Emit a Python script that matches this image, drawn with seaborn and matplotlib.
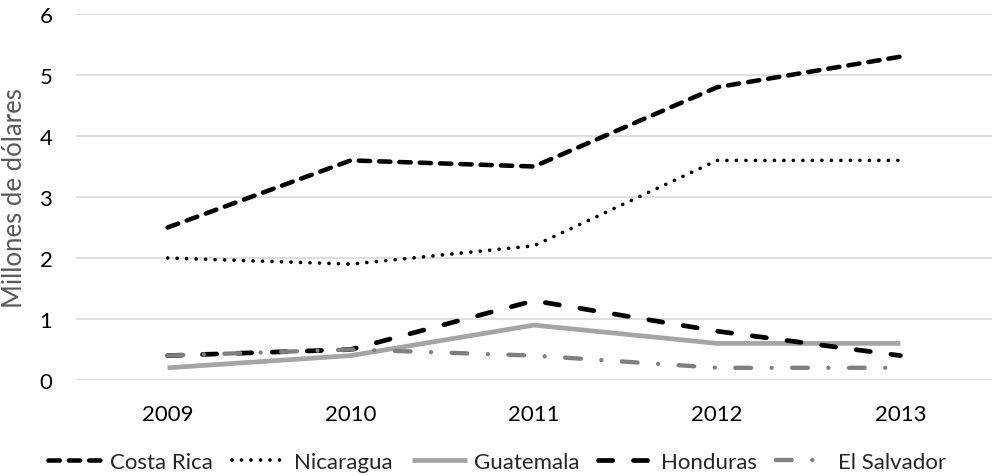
import matplotlib
matplotlib.use("Agg")
import matplotlib.pyplot as plt
import seaborn as sns
import pandas as pd

years = [2009, 2010, 2011, 2012, 2013]
costa_rica = [2.5, 3.6, 3.5, 4.8, 5.3]
nicaragua = [2.0, 1.9, 2.2, 3.6, 3.6]
guatemala = [0.2, 0.4, 0.9, 0.6, 0.6]
honduras = [0.4, 0.5, 1.3, 0.8, 0.4]
el_salvador = [0.4, 0.5, 0.4, 0.2, 0.2]

series = {
    "Costa Rica": costa_rica,
    "Nicaragua": nicaragua,
    "Guatemala": guatemala,
    "Honduras": honduras,
    "El Salvador": el_salvador,
}

# line appearance per country: colour, width (pt), dash pattern (in linewidths)
styles = {
    "Costa Rica": dict(color="#000000", lw=3.25, dashes=(2.5, 2.0)),
    "Nicaragua": dict(color="#000000", lw=2.65, dashes=(0.01, 2.57)),
    "Guatemala": dict(color="#a5a5a5", lw=3.4, dashes=None),
    "Honduras": dict(color="#000000", lw=3.4, dashes=(3.0, 4.4)),
    "El Salvador": dict(color="#7f7f7f", lw=3.1, dashes=(3.65, 4.77, 0.01, 4.77)),
}

df = pd.DataFrame(
    [(y, name, v) for name, vals in series.items() for y, v in zip(years, vals)],
    columns=["year", "country", "value"],
)

sns.set_theme(style="white")
plt.rcParams["font.family"] = ["Lato", "DejaVu Sans"]

fig = plt.figure(figsize=(9.93, 4.77), dpi=100)
ax = fig.add_axes([76 / 993, 1 - 381 / 477, (992 - 76) / 993, (381 - 15) / 477])

for name in series:
    st = styles[name]
    sub = df[df["country"] == name]
    sns.lineplot(data=sub, x="year", y="value", ax=ax, color=st["color"],
                 linewidth=st["lw"], label=name, legend=False)
    line = ax.get_lines()[-1]
    if st["dashes"] is not None:
        line.set_dashes(st["dashes"])
    line.set_dash_capstyle("round")
    line.set_solid_capstyle("butt")
    line.set_solid_joinstyle("round")
    line.set_dash_joinstyle("round")

ax.set_xlim(2008.5, 2013.5)
ax.set_ylim(0, 6)
ax.set_xticks(years)
ax.set_xticklabels([str(y) for y in years])
ax.set_yticks(range(0, 7))
ax.yaxis.grid(True, color="#d9d9d9", linewidth=1.2)
ax.xaxis.grid(False)
ax.set_axisbelow(True)
for s in ax.spines.values():
    s.set_visible(False)
ax.tick_params(axis="both", length=0, labelsize=16, colors="#000000")
ax.tick_params(axis="x", pad=17)
ax.tick_params(axis="y", pad=17)
ax.set_xlabel("")
ax.set_ylabel("Millones de dólares", fontsize=18.5, color="#595959")
ax.yaxis.set_label_coords(-0.0535, 0.5)

handles, labels = ax.get_legend_handles_labels()
fig.legend(handles, labels, loc="center", bbox_to_anchor=(0.5005, 1 - 463 / 477),
           ncol=5, frameon=False, fontsize=16, handlelength=2.5,
           handletextpad=0.3, columnspacing=0.85)

fig.savefig("out.png", dpi=100, facecolor="white")
